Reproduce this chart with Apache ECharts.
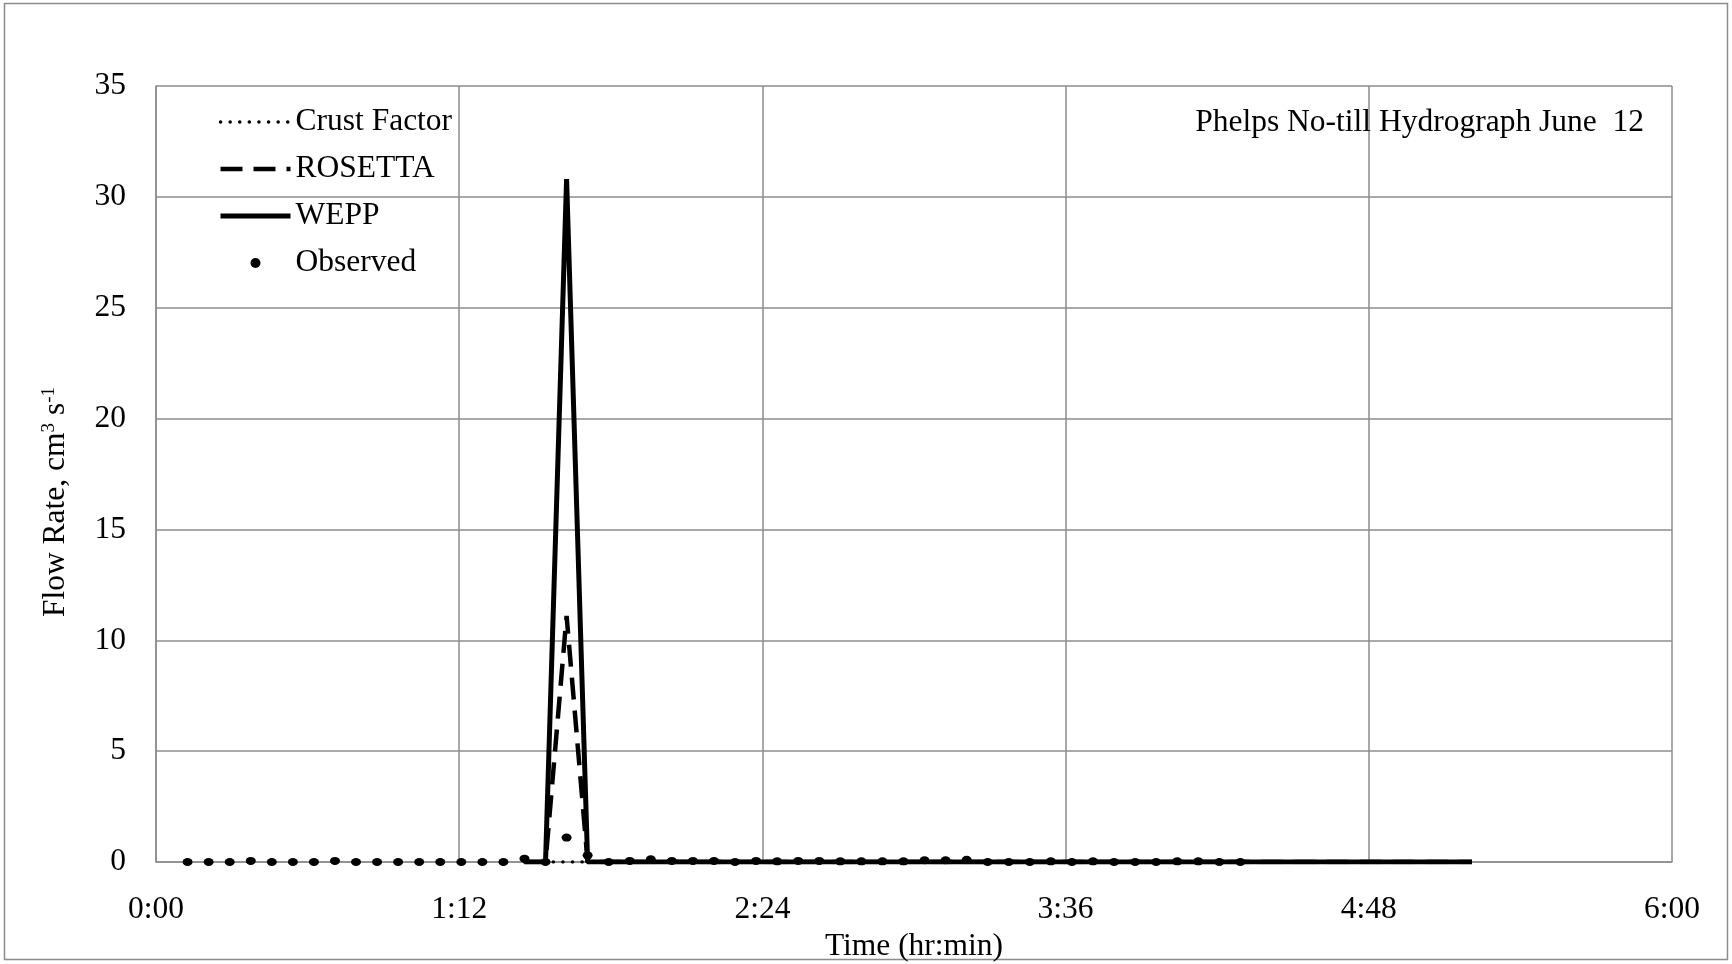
<!DOCTYPE html>
<html>
<head>
<meta charset="utf-8">
<script src="https://cdn.jsdelivr.net/npm/echarts@6/dist/echarts.min.js"></script>
<style>
html,body{margin:0;padding:0;background:#fff;}
#chart{width:1732px;height:964px;}
</style>
</head>
<body>
<div id="chart"></div>
<script>
// ---- data (time in minutes, flow in cm3/s) ----
const obsTime = [7.5,12.5,17.5,22.5,27.5,32.5,37.5,42.5,47.5,52.5,57.5,62.5,67.5,72.5,77.5,82.5,87.5,92.5,97.5,102.5,107.5,112.5,117.5,122.5,127.5,132.5,137.5,142.5,147.5,152.5,157.5,162.5,167.5,172.5,177.5,182.5,187.5,192.5,197.5,202.5,207.5,212.5,217.5,222.5,227.5,232.5,237.5,242.5,247.5,252.5,257.5];
const obsFlow = [0,0,0,0.05,0,0,0,0.05,0,0,0,0,0,0,0,0,0.15,0,1.1,0.3,0,0.05,0.12,0.05,0.05,0.05,0,0.05,0.03,0.05,0.05,0.03,0.03,0.03,0.03,0.08,0.08,0.1,0,0,0,0.03,0,0.03,0,0,0,0.03,0.03,0,0];
const modelTime = [87.5,92.5,97.5,102.5,107.5,112.5,117.5,122.5,127.5,132.5,137.5,142.5,147.5,152.5,157.5,162.5,167.5,172.5,177.5,182.5,187.5,192.5,197.5,202.5,207.5,212.5,217.5,222.5,227.5,232.5,237.5,242.5,247.5,252.5,257.5,262.5,267.5,272.5,277.5,282.5,287.5,292.5,297.5,302.5,307.5,312.5];
const crustFlow = [0,0,0,0,0,0,0,0,0,0,0,0,0,0,0,0,0,0,0,0,0,0,0,0,0,0,0,0,0,0,0,0,0,0,0,0,0,0,0,0,0,0,0,0,0,0];
const rosettaFlow = [0,0,11.1,0,0,0,0,0,0,0,0,0,0,0,0,0,0,0,0,0,0,0,0,0,0,0,0,0,0,0,0,0,0,0,0,0,0,0,0,0,0,0,0,0,0,0];
const weppFlow = [0,0,30.8,0,0,0,0,0,0,0,0,0,0,0,0,0,0,0,0,0,0,0,0,0,0,0,0,0,0,0,0,0,0,0,0,0,0,0,0,0,0,0,0,0,0,0];
const seriesNames = ['Crust Factor','ROSETTA','WEPP','Observed'];
const chartTitle = 'Phelps No-till Hydrograph June  12';
const xTitle = 'Time (hr:min)';

function pairs(t, v){ return t.map((x,i)=>[x, v[i]]); }
function hm(m){ const h=Math.floor(m/60), mm=Math.round(m-h*60); return h+':'+(mm<10?'0':'')+mm; }

const FONT = 'Liberation Serif';
const FS = 31.5;
const GRID_COLOR = '#8c8c8c';

const crustLine = {color:'#000', width:3.5, type:[0.1,9.5], cap:'round'};
const rosettaLine = {color:'#000', width:4.5, type:[22,11]};
const weppLine = {color:'#000', width:5, type:'solid'};
const hidden = {color:'rgba(0,0,0,0)', opacity:0, borderWidth:0};

const chart = echarts.init(document.getElementById('chart'), null, {renderer:'canvas'});
chart.setOption({
  backgroundColor:'#fff',
  animation:false,
  textStyle:{fontFamily:FONT, color:'#000'},
  graphic:[{type:'rect', shape:{x:4.5,y:3.5,width:1723,height:956}, style:{fill:'none', stroke:'#8c8c8c', lineWidth:1.5}, silent:true}],
  title:{text:chartTitle, right:88, top:107, padding:0,
    textStyle:{fontFamily:FONT, fontSize:FS, fontWeight:'normal', color:'#000'}},
  legend:{
    orient:'vertical', left:218, top:106, padding:0, itemGap:15,
    itemWidth:70, itemHeight:10,
    textStyle:{fontFamily:FONT, fontSize:FS, color:'#000', lineHeight:29.5},
    data:[
      {name:seriesNames[0], lineStyle:crustLine, itemStyle:hidden},
      {name:seriesNames[1], lineStyle:rosettaLine, itemStyle:hidden},
      {name:seriesNames[2], lineStyle:weppLine, itemStyle:hidden},
      {name:seriesNames[3], icon:'circle', itemStyle:{color:'#000', opacity:1}}
    ]
  },
  grid:{left:156, top:86, right:60, bottom:102, containLabel:false, outerBoundsMode:'none'},
  xAxis:{
    type:'value', min:0, max:360, interval:72,
    name:xTitle, nameLocation:'middle', nameGap:64,
    nameTextStyle:{fontFamily:FONT, fontSize:FS, color:'#000'},
    axisLine:{show:true, lineStyle:{color:GRID_COLOR, width:1.5}},
    axisTick:{show:false},
    axisLabel:{formatter:hm, fontFamily:FONT, fontSize:FS, color:'#000', margin:32},
    splitLine:{show:true, lineStyle:{color:GRID_COLOR, width:1.5}}
  },
  yAxis:{
    type:'value', min:0, max:35, interval:5,
    name:'Flow Rate, cm{sup|3} s{sup|-1}', nameLocation:'middle', nameGap:84,
    nameTextStyle:{fontFamily:FONT, fontSize:FS, color:'#000', padding:[0,56,0,0],
      rich:{sup:{fontFamily:FONT, fontSize:19, verticalAlign:'top', color:'#000'}}},
    axisLine:{show:true, lineStyle:{color:GRID_COLOR, width:1.5}},
    axisTick:{show:false},
    axisLabel:{fontFamily:FONT, fontSize:FS, color:'#000', margin:30},
    splitLine:{show:true, lineStyle:{color:GRID_COLOR, width:1.5}}
  },
  series:[
    {name:seriesNames[0], type:'line', data:pairs(modelTime, crustFlow), symbol:'none',
      lineStyle:crustLine, itemStyle:{color:'#000'}, z:3},
    {name:seriesNames[1], type:'line', data:pairs(modelTime, rosettaFlow), symbol:'none',
      lineStyle:rosettaLine, itemStyle:{color:'#000'}, z:4},
    {name:seriesNames[2], type:'line', data:pairs(modelTime, weppFlow), symbol:'none',
      lineStyle:weppLine, itemStyle:{color:'#000'}, z:5},
    {name:seriesNames[3], type:'scatter', data:pairs(obsTime, obsFlow), symbol:'circle', symbolSize:[10,8],
      itemStyle:{color:'#000', opacity:1}, z:6}
  ]
});
</script>
</body>
</html>
